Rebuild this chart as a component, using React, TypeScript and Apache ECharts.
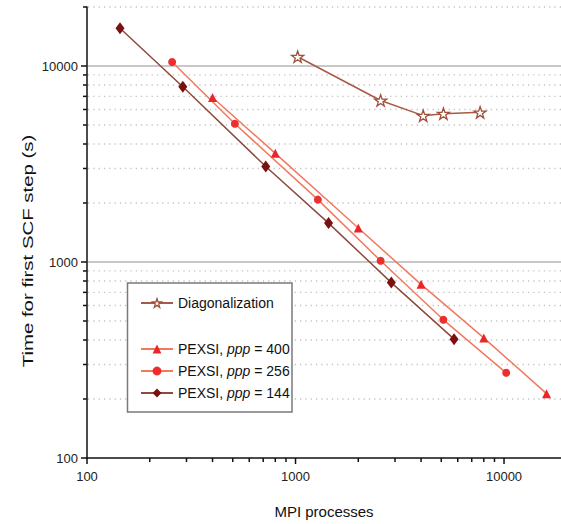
import React, { useEffect, useRef } from "react";
import * as echarts from "echarts";

const X_MIN = 100;
const X_MAX = 18760;
const Y_MIN = 100;
const Y_MAX = 20000;

const DIAG_X = [1024, 2560, 4096, 5120, 7680];
const DIAG_Y = [11150, 6670, 5580, 5714, 5803];

const P400_X = [400, 800, 2000, 4000, 8000, 16000];
const P400_Y = [6910, 3585, 1490, 769, 410, 213];

const P256_X = [256, 512, 1280, 2560, 5120, 10240];
const P256_Y = [10480, 5070, 2080, 1014, 507, 272];

const P144_X = [144, 288, 720, 1440, 2880, 5760];
const P144_Y = [15570, 7830, 3070, 1579, 785, 404];

const MAJOR = [100, 1000, 10000];
const Y_TICKS = [100, 200, 300, 400, 500, 600, 700, 800, 900, 1000, 2000, 3000, 4000, 5000, 6000, 7000, 8000, 9000, 10000, 20000];
const X_TICKS = [100, 200, 300, 400, 500, 600, 700, 800, 900, 1000, 2000, 3000, 4000, 5000, 6000, 7000, 8000, 9000, 10000];

const NAMES = {
  diag: "Diagonalization",
  p400: "PEXSI, ppp = 400",
  p256: "PEXSI, ppp = 256",
  p144: "PEXSI, ppp = 144",
};

const FONT = "Liberation Sans, Arial, sans-serif";
const STAR = "path://M50,0 L61.8,35.1 L98.1,35.1 L68.8,56.7 L79.4,91 L50,70 L20.6,91 L31.2,56.7 L1.9,35.1 L38.2,35.1 Z";
const STAR_STYLE = { color: "#fff", borderColor: "#A0503A", borderWidth: 1.3 };

const zip = (xs: number[], ys: number[]) => xs.map((x, i) => [x, ys[i]]);

export default function App() {
  const ref = useRef<HTMLDivElement>(null);
  useEffect(() => {
    if (!ref.current) return;
    const chart = echarts.init(ref.current, null, { renderer: "svg" });
    const legendFormatter = (name: string) => {
      const m = name.match(/^PEXSI, ppp = (\d+)$/);
      return m ? `PEXSI, {i|ppp} = ${m[1]}` : name;
    };
    const legendText = {
      fontSize: 14,
      fontFamily: FONT,
      color: "#111",
      rich: { i: { fontSize: 14, fontFamily: FONT, fontStyle: "italic", color: "#111" } },
    };
    const option: any = {
      animation: false,
      backgroundColor: "#fff",
      grid: { left: 87, right: 0, top: 7, bottom: 63, containLabel: false },
      xAxis: {
        type: "log",
        logBase: 10,
        min: X_MIN,
        max: X_MAX,
        name: "MPI processes",
        nameLocation: "middle",
        nameGap: 46,
        nameTextStyle: { fontSize: 15, fontFamily: FONT, color: "#111" },
        axisLine: { show: true, onZero: false, lineStyle: { color: "#111", width: 1.5 } },
        axisTick: { show: false },
        splitLine: { show: false },
        axisLabel: {
          fontSize: 13,
          fontFamily: FONT,
          color: "#222",
          margin: 12,
          showMaxLabel: false,
          formatter: (v: number) => (MAJOR.some((m) => Math.abs(m - v) < 1e-6 * m) ? String(Math.round(v)) : ""),
        },
      },
      yAxis: {
        type: "log",
        logBase: 10,
        min: Y_MIN,
        max: Y_MAX,
        axisLine: { show: true, onZero: false, lineStyle: { color: "#111", width: 1.5 } },
        axisTick: { show: false },
        splitLine: { show: false },
        axisLabel: {
          fontSize: 13,
          fontFamily: FONT,
          color: "#222",
          margin: 9,
          showMaxLabel: false,
          formatter: (v: number) => (MAJOR.some((m) => Math.abs(m - v) < 1e-6 * m) ? String(Math.round(v)) : ""),
        },
      },
      legend: [
        {
          data: [{ name: NAMES.diag, itemStyle: STAR_STYLE }],
          left: 135,
          top: 291,
          itemWidth: 32,
          itemHeight: 11,
          z: 6,
          formatter: legendFormatter,
          textStyle: legendText,
        },
        {
          data: [NAMES.p400, NAMES.p256, NAMES.p144],
          orient: "vertical",
          left: 135,
          top: 337,
          itemWidth: 32,
          itemHeight: 11,
          itemGap: 8,
          z: 6,
          formatter: legendFormatter,
          textStyle: legendText,
        },
      ],
      graphic: [
        {
          type: "rect",
          z: 3,
          shape: { x: 127.5, y: 283, width: 164.5, height: 129 },
          style: { fill: "#fff", stroke: "#7a7a7a", lineWidth: 1.5 },
        },
        {
          type: "text",
          x: 28,
          y: 251,
          rotation: Math.PI / 2,
          scaleX: 1.36,
          style: {
            text: "Time for first SCF step (s)",
            font: `15px ${FONT}`,
            fill: "#111",
            textAlign: "center",
            textVerticalAlign: "middle",
            align: "center",
            verticalAlign: "middle",
          },
        },
      ],
      series: [
        {
          type: "custom",
          name: "yTicks",
          z: 1,
          clip: false,
          silent: true,
          data: Y_TICKS.map((v) => [X_MIN, v, MAJOR.includes(v) ? 1 : 0]),
          renderItem: (params: any, api: any) => {
            const v = api.value(1);
            const major = api.value(2) === 1;
            const p = api.coord([X_MIN, v]);
            const cs = params.coordSys;
            const children: any[] = [
              {
                type: "line",
                shape: { x1: cs.x - (major ? 6 : 4), y1: p[1], x2: cs.x, y2: p[1] },
                style: { stroke: "#111", lineWidth: 1.5 },
              },
            ];
            if (v > Y_MIN) {
              children.push({
                type: "line",
                shape: { x1: cs.x + 1, y1: p[1], x2: cs.x + cs.width, y2: p[1] },
                style: major
                  ? { stroke: "#c8c8c8", lineWidth: 2 }
                  : { stroke: "#c4c4c4", lineWidth: 1.3, lineDash: [1.3, 4] },
              });
            }
            return { type: "group", children };
          },
        },
        {
          type: "custom",
          name: "xTicks",
          z: 1,
          clip: false,
          silent: true,
          data: X_TICKS.map((v) => [v, Y_MIN, MAJOR.includes(v) ? 1 : 0]),
          renderItem: (params: any, api: any) => {
            const v = api.value(0);
            const major = api.value(2) === 1;
            const p = api.coord([v, Y_MIN]);
            return {
              type: "line",
              shape: { x1: p[0], y1: p[1], x2: p[0], y2: p[1] + (major ? 6 : 4) },
              style: { stroke: "#111", lineWidth: 1.5 },
            };
          },
        },
        {
          type: "line",
          name: NAMES.diag,
          z: 2,
          data: zip(DIAG_X, DIAG_Y),
          symbol: STAR,
          symbolSize: 12,
          symbolKeepAspect: true,
          lineStyle: { color: "#A65A47", width: 1.5 },
          itemStyle: STAR_STYLE,
        },
        {
          type: "line",
          name: NAMES.p400,
          z: 2,
          data: zip(P400_X, P400_Y),
          symbol: "triangle",
          symbolSize: 9,
          lineStyle: { color: "#F07A5E", width: 1.5 },
          itemStyle: { color: "#E8262C" },
        },
        {
          type: "line",
          name: NAMES.p256,
          z: 2,
          data: zip(P256_X, P256_Y),
          symbol: "circle",
          symbolSize: 8,
          lineStyle: { color: "#F07A5E", width: 1.5 },
          itemStyle: { color: "#EE2E2E" },
        },
        {
          type: "line",
          name: NAMES.p144,
          z: 2,
          data: zip(P144_X, P144_Y),
          symbol: "diamond",
          symbolSize: [9, 12],
          lineStyle: { color: "#8E4A3E", width: 1.5 },
          itemStyle: { color: "#7A1010" },
        },
      ],
    };
    chart.setOption(option);
    return () => chart.dispose();
  }, []);
  return (
    <div
      ref={ref}
      style={{ position: "fixed", left: 0, top: 0, width: 561, height: 524, background: "#fff" }}
    />
  );
}
